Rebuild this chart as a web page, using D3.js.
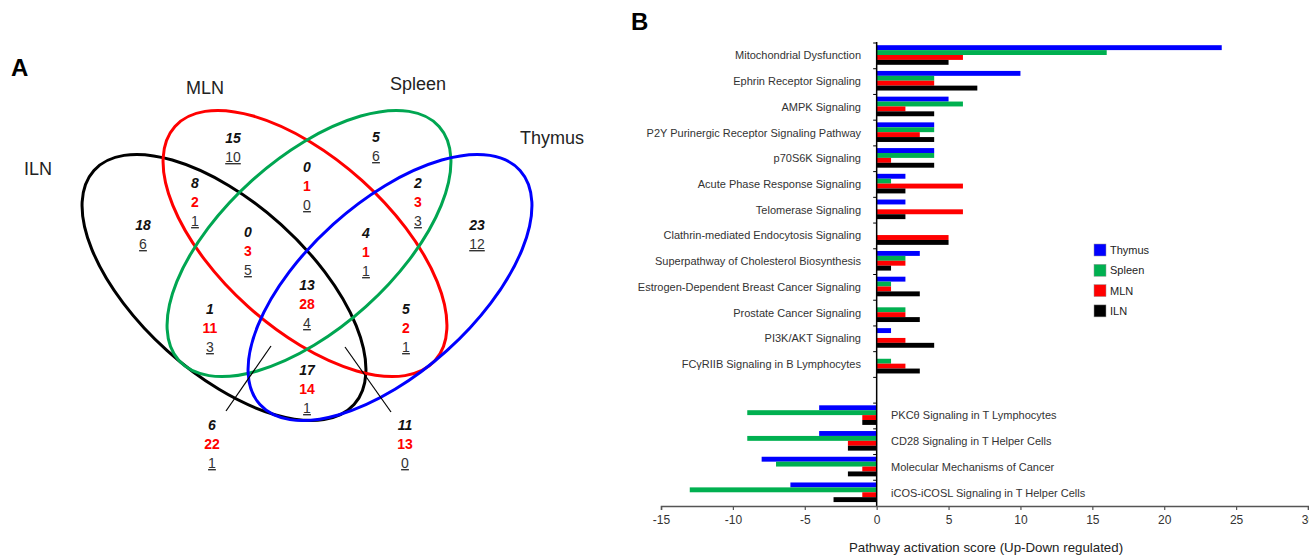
<!DOCTYPE html>
<html><head><meta charset="utf-8">
<script src="https://cdn.jsdelivr.net/npm/d3@7/dist/d3.min.js"></script>
<style>
html,body{margin:0;padding:0;background:#fff;}
svg{display:block;font-family:"Liberation Sans",Arial,sans-serif;}
</style></head>
<body>
<svg id="chart" width="1309" height="557"></svg>
<script>
// ---------------- DATA ----------------
const categories = [
  "Mitochondrial Dysfunction","Ephrin Receptor Signaling","AMPK Signaling",
  "P2Y Purinergic Receptor Signaling Pathway","p70S6K Signaling","Acute Phase Response Signaling",
  "Telomerase Signaling","Clathrin-mediated Endocytosis Signaling","Superpathway of Cholesterol Biosynthesis",
  "Estrogen-Dependent Breast Cancer Signaling","Prostate Cancer Signaling","PI3K/AKT Signaling",
  "FCγRIIB Signaling in B Lymphocytes",
  "PKCθ Signaling in T Lymphocytes","CD28 Signaling in T Helper Cells",
  "Molecular Mechanisms of Cancer","iCOS-iCOSL Signaling in T Helper Cells"
];
const seriesNames = ["Thymus","Spleen","MLN","ILN"];
const thymus = [24,10,5,4,4,2,2,0,3,2,0,1,0,-4,-4,-8,-6];
const spleen = [16,4,6,4,4,1,0,0,2,1,2,0,1,-9,-9,-7,-13];
const mln    = [6,4,2,3,1,6,6,5,2,1,2,2,2,-1,-2,-1,-1];
const iln    = [5,7,4,4,4,2,2,5,1,3,3,4,3,-1,-2,-2,-3];
const xTicks = [-15,-10,-5,0,5,10,15,20,25,30];

// Venn regions
const vennRegions = ["ILN","MLN","Spleen","Thymus","ILN∩MLN","MLN∩Spleen","Spleen∩Thymus",
  "ILN∩MLN∩Spleen","MLN∩Spleen∩Thymus","ILN∩Spleen","ILN∩MLN∩Spleen∩Thymus","MLN∩Thymus",
  "ILN∩Spleen∩Thymus","ILN∩Thymus","ILN∩MLN∩Thymus"];
const vennTop    = [18,15,5,23,8,0,2,0,4,1,13,5,6,17,11];
const vennMid    = [null,null,null,null,2,1,3,3,1,11,28,2,22,14,13];
const vennBottom = [6,10,6,12,1,0,3,5,1,3,4,1,1,1,0];
const vennSets = ["ILN","MLN","Spleen","Thymus"];

// ---------------- LAYOUT ----------------
const svg = d3.select("#chart");
const barColors = {Thymus:"#0000ff",Spleen:"#00b050",MLN:"#ff0000",ILN:"#000000"};
const vennColors = {ILN:"#000000",MLN:"#ff0000",Spleen:"#00a651",Thymus:"#0000ff"};

// panel labels
svg.append("text").attr("x",11).attr("y",76).attr("font-size",24).attr("font-weight","bold").text("A");
svg.append("text").attr("x",631).attr("y",30).attr("font-size",24).attr("font-weight","bold").text("B");

// ---- Venn ----
const ellipses = [
  {set:"ILN",   cx:224, cy:287.5, rot:42},
  {set:"MLN",   cx:305, cy:243.5, rot:42},
  {set:"Spleen",cx:309, cy:243.5, rot:-42},
  {set:"Thymus",cx:390, cy:287.5, rot:-42}
];
const venn = svg.append("g");
venn.selectAll("ellipse").data(ellipses).join("ellipse")
  .attr("cx",d=>d.cx).attr("cy",d=>d.cy).attr("rx",175).attr("ry",85)
  .attr("transform",d=>`rotate(${d.rot},${d.cx},${d.cy})`)
  .attr("fill","none").attr("stroke",d=>vennColors[d.set]).attr("stroke-width",3);

const setLabelPos = {ILN:[38,175],MLN:[205,94],Spleen:[418,90],Thymus:[552,144]};
venn.selectAll("text.set").data(vennSets).join("text").attr("class","set")
  .attr("x",d=>setLabelPos[d][0]).attr("y",d=>setLabelPos[d][1])
  .attr("text-anchor","middle").attr("font-size",18).attr("fill","#222").text(d=>d);

// callout lines
venn.append("line").attr("x1",226).attr("y1",411).attr("x2",271).attr("y2",346).attr("stroke","#000").attr("stroke-width",1.2);
venn.append("line").attr("x1",345).attr("y1",347).attr("x2",391).attr("y2",412).attr("stroke","#000").attr("stroke-width",1.2);

const regionPos = [[143,225],[233,138],[376,137],[477,225],[195,183],[307,167],[418,183],
  [248,232],[366,233],[210,309],[307,285],[406,309],[212,425],[307,370],[405,425]];
const lh = 19;
vennRegions.forEach((r,i)=>{
  const [x,y] = regionPos[i];
  let yy = y + 5;
  venn.append("text").attr("x",x).attr("y",yy).attr("text-anchor","middle")
    .attr("font-size",14).attr("font-weight","bold").attr("font-style","italic")
    .attr("fill","#111").text(vennTop[i]);
  yy += lh;
  if (vennMid[i] !== null) {
    venn.append("text").attr("x",x).attr("y",yy).attr("text-anchor","middle")
      .attr("font-size",14).attr("font-weight","bold").attr("fill","#ff0000").text(vennMid[i]);
    yy += lh;
  }
  venn.append("text").attr("x",x).attr("y",yy).attr("text-anchor","middle")
    .attr("font-size",14).attr("fill","#333").attr("text-decoration","underline").text(vennBottom[i]);
});

// ---- Bar chart ----
const x = d3.scaleLinear().domain([-15,30]).range([661,1308]);
const slots = [...categories.slice(0,13),"__gap__",...categories.slice(13)];
const y = d3.scaleBand().domain(slots).range([43,506]).padding(0);
const inner = d3.scaleBand().domain(seriesNames).range([2.2, 21.8]).padding(0);
const seriesValues = {Thymus:thymus,Spleen:spleen,MLN:mln,ILN:iln};

const bars = svg.append("g");
categories.forEach((c,i)=>{
  seriesNames.forEach(s=>{
    const v = seriesValues[s][i];
    if (v === 0) return;
    bars.append("rect")
      .attr("x", x(Math.min(0,v))).attr("width", Math.abs(x(v)-x(0)))
      .attr("y", y(c)+inner(s)).attr("height", inner.bandwidth())
      .attr("fill", barColors[s]);
  });
});

// vertical axis
const yAxisG = svg.append("g");
yAxisG.append("line").attr("x1",x(0)).attr("x2",x(0)).attr("y1",42).attr("y2",506)
  .attr("stroke","#000").attr("stroke-width",1.5);
yAxisG.selectAll("line.tk").data(slots).join("line").attr("class","tk")
  .attr("x1",x(0)-3.5).attr("x2",x(0)).attr("y1",d=>y(d)).attr("y2",d=>y(d))
  .attr("stroke","#000").attr("stroke-width",1);

// category labels
svg.append("g").selectAll("text").data(categories).join("text")
  .attr("x",(d,i)=> i<13 ? 861 : 891)
  .attr("y",d=>y(d)+y.bandwidth()/2 - 0.5)
  .attr("text-anchor",(d,i)=> i<13 ? "end" : "start")
  .attr("dominant-baseline","central")
  .attr("font-size",11).attr("fill","#333").text(d=>d);

// x axis
const xAxis = d3.axisBottom(x).tickValues(xTicks).tickSize(4).tickFormat(d=>String(d));
const xg = svg.append("g").attr("transform","translate(0,506)").call(xAxis);
xg.select(".domain").attr("stroke","#555").attr("stroke-width",1.5);
xg.selectAll(".tick line").attr("stroke","#555").attr("stroke-width",1.2);
xg.selectAll(".tick text").attr("font-size",12).attr("fill","#333")
  .attr("font-family","'Liberation Sans',Arial,sans-serif").attr("dy","0.9em");

svg.append("text").attr("x",986).attr("y",552).attr("text-anchor","middle")
  .attr("font-size",13.3).attr("fill","#222")
  .text("Pathway activation score (Up-Down regulated)");

// legend
const leg = svg.append("g").attr("transform","translate(1094,244)");
seriesNames.forEach((s,i)=>{
  leg.append("rect").attr("x",0).attr("y",i*20.3).attr("width",12).attr("height",12)
    .attr("fill",barColors[s]).attr("stroke","#999").attr("stroke-width",0.5);
  leg.append("text").attr("x",16).attr("y",i*20.3+6).attr("dominant-baseline","central")
    .attr("font-size",11).attr("fill","#222").text(s);
});
</script>
</body></html>
